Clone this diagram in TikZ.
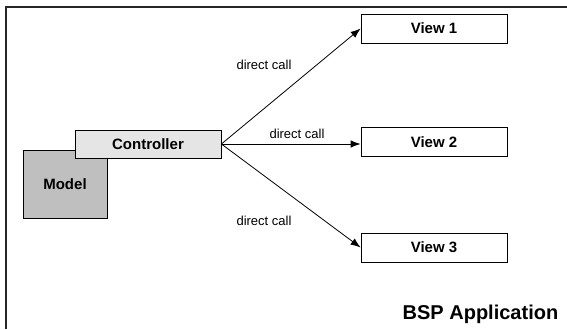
\documentclass[tikz,border=0pt]{standalone}
\usepackage{fontspec}
\setmainfont{Liberation Sans}
\tikzstyle{block}=[draw, minimum width=146pt, minimum height=29pt, inner sep=0pt, font=\fontsize{15}{18}\selectfont\bfseries]
\tikzstyle{arrow}=[->,>={Latex[length=10pt,width=7.5pt]}]
\tikzstyle{call}=[font=\fontsize{13}{15}\selectfont]
\usetikzlibrary{arrows,arrows.meta,positioning,calc}

\begin{document}
\begin{tikzpicture}[x=1pt,y=-1pt,line width=0.8pt]
\useasboundingbox (0,0) rectangle (567,329);
% application frame
\draw[line width=1.6pt,black!85] (6,329) |- (567,7);
\node (model) [block,fill=black!25,minimum width=84pt,minimum height=68pt] at (65,184) {Model};
\node (ctrl) [block,fill=black!10,minimum height=28pt] at (148,144) {Controller};
\node (view1) [block] at (434,28.5) {View 1};
\node (view2) [block] at (434,142) {View 2};
\node (view3) [block] at (434,247.5) {View 3};
\draw[arrow] (ctrl.east)--(view1.west);
\draw[arrow] (ctrl.east)--(ctrl.east-|view2.west);
\draw[arrow] (ctrl.east)--(view3.west);
\node (call1) [call] at (264,65) {direct call};
\node (call2) [call] at (297,134) {direct call};
\node (call3) [call] at (264,221) {direct call};
\node (app) [anchor=base east,font=\fontsize{20}{24}\selectfont\bfseries] at (562,319) {BSP Application};
\end{tikzpicture}
\end{document}
